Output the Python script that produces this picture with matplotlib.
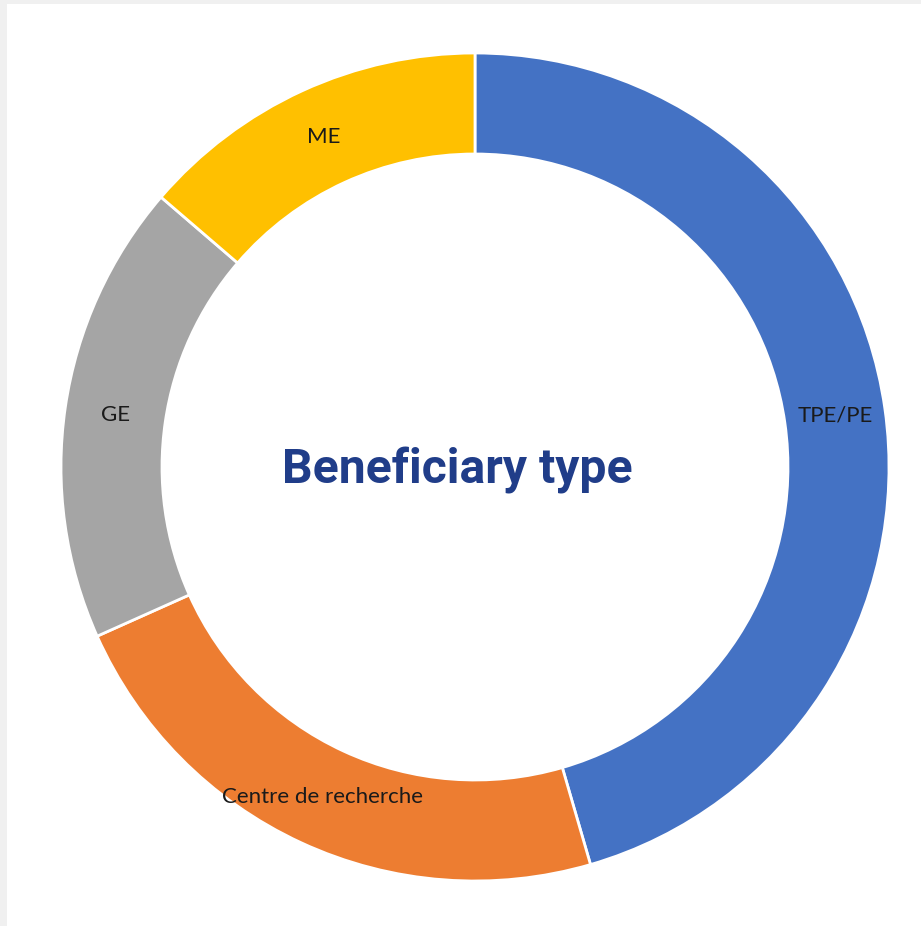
import matplotlib
matplotlib.use("Agg")
import matplotlib.pyplot as plt
import numpy as np
from matplotlib.patches import Rectangle

categories = ["TPE/PE", "Centre de recherche", "GE", "ME"]
values = [45.5, 22.8, 18.0, 13.7]
colors = ["#4472C4", "#ED7D31", "#A5A5A5", "#FFC000"]
title = "Beneficiary type"

W, H = 921, 926
cx, cy, R = 475, 467, 414
fig = plt.figure(figsize=(W / 100, H / 100), dpi=100)
fig.patch.set_facecolor("white")
# light gray frame at top and left
fig.patches.append(Rectangle((0, 1 - 4 / H), 1, 4 / H, transform=fig.transFigure,
                             facecolor="#F0F0F0", edgecolor="none", zorder=0))
fig.patches.append(Rectangle((0, 0), 7 / W, 1, transform=fig.transFigure,
                             facecolor="#F0F0F0", edgecolor="none", zorder=0))

ax = fig.add_axes([0, 0, 1, 1])

ring = (414 - 313) / 414
wedges, _ = ax.pie(values, colors=colors, startangle=90, counterclock=False,
                   radius=1, wedgeprops=dict(width=ring, edgecolor="white", linewidth=2))
ax.set_xlim(-cx / R, (W - cx) / R)
ax.set_ylim(-(H - cy) / R, cy / R)
ax.set_aspect("auto")
ax.axis("off")

rmid = 1 - ring / 2
for w, lab in zip(wedges, categories):
    ang = np.deg2rad((w.theta1 + w.theta2) / 2)
    ax.text(rmid * np.cos(ang), rmid * np.sin(ang), lab, ha="center", va="center",
            fontsize=16, family="Lato", color="#1a1a1a")

ax.text(-18 / R, -3 / R, title, ha="center", va="center", fontsize=34.7,
        family="Roboto", fontweight="bold", color="#203D89")

fig.savefig("out.png", dpi=100)
